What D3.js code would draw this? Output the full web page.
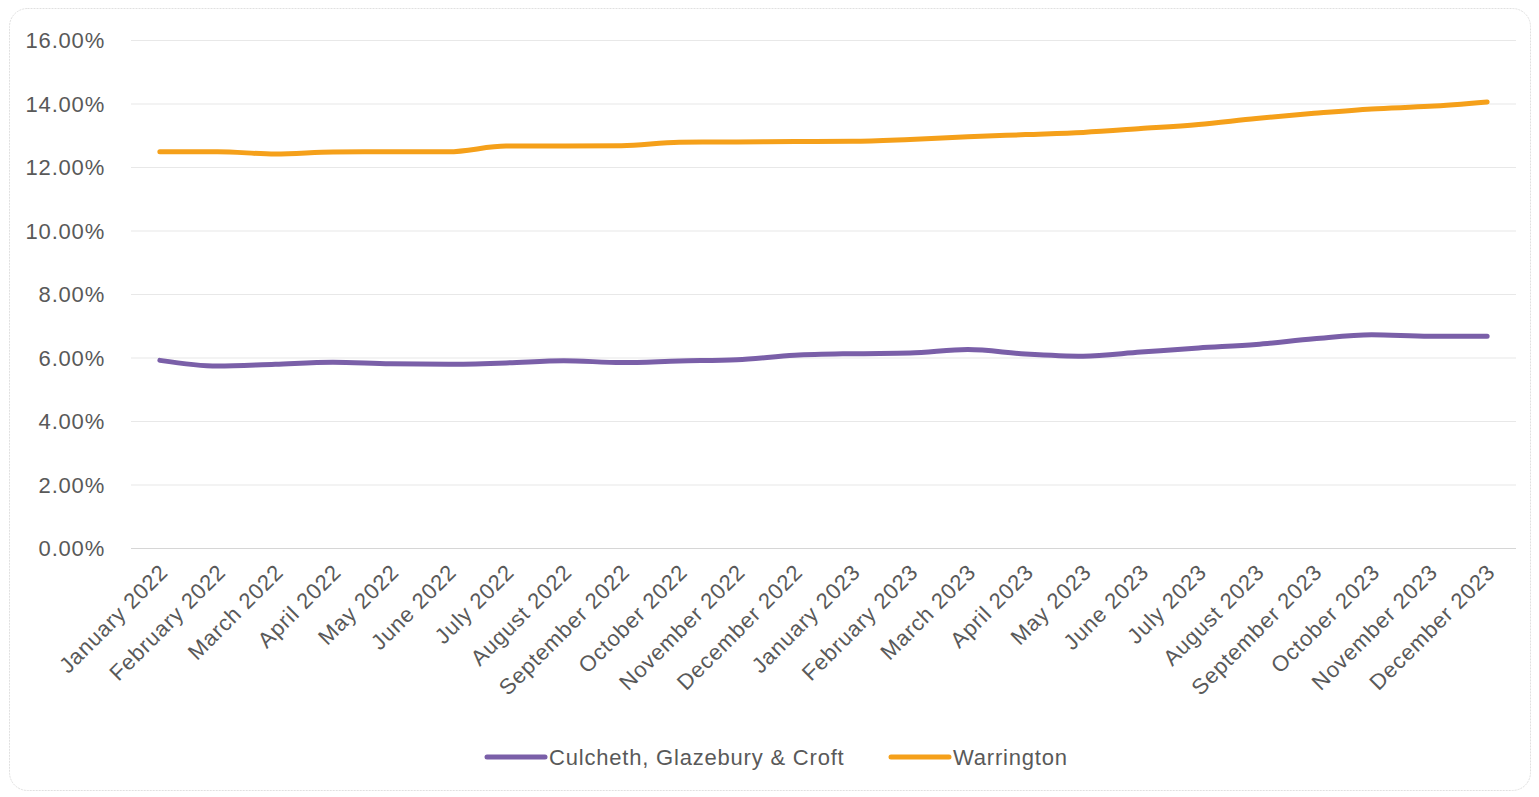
<!DOCTYPE html>
<html>
<head>
<meta charset="utf-8">
<script src="https://cdn.jsdelivr.net/npm/d3@7"></script>
<style>
  body { margin: 0; background: #fff; }
  svg text { font-family: "Liberation Sans", Arial, sans-serif; fill: #595959; letter-spacing: 0.8px; }
</style>
</head>
<body>
<div id="chart"></div>
<script>
// categories (months) and series values, in percent
var months = ["January 2022", "February 2022", "March 2022", "April 2022", "May 2022", "June 2022",
    "July 2022", "August 2022", "September 2022", "October 2022", "November 2022", "December 2022",
    "January 2023", "February 2023", "March 2023", "April 2023", "May 2023", "June 2023",
    "July 2023", "August 2023", "September 2023", "October 2023", "November 2023", "December 2023"];

var culcheth = [5.91, 5.73, 5.79, 5.85, 5.80, 5.79, 5.83, 5.90, 5.84, 5.89, 5.93, 6.07,
    6.12, 6.14, 6.25, 6.11, 6.04, 6.17, 6.30, 6.41, 6.59, 6.72, 6.67, 6.67];

var warrington = [12.48, 12.48, 12.41, 12.47, 12.48, 12.48, 12.66, 12.66, 12.67, 12.78, 12.79, 12.80,
    12.81, 12.87, 12.95, 13.02, 13.09, 13.21, 13.34, 13.53, 13.69, 13.83, 13.91, 14.05];

var yTicks = [0, 2, 4, 6, 8, 10, 12, 14, 16];

var seriesNames = ["Culcheth, Glazebury & Croft", "Warrington"];
var seriesColors = ["#7a5fa8", "#f5a01a"];

var W = 1539, H = 797;
var margin = { top: 40, right: 23, bottom: 249, left: 131 },
    width = W - margin.left - margin.right,
    height = H - margin.top - margin.bottom;

var svg = d3.select("#chart").append("svg")
    .attr("width", W)
    .attr("height", H);

// outer frame
svg.append("rect")
    .attr("x", 9.5).attr("y", 8.5)
    .attr("width", 1521).attr("height", 782)
    .attr("rx", 18)
    .attr("fill", "#fff")
    .attr("stroke", "#e0e0e0")
    .attr("stroke-dasharray", "2,1");

var g = svg.append("g")
    .attr("transform", "translate(" + margin.left + "," + margin.top + ")");

var x = d3.scaleBand().domain(months).range([0, width]).padding(0);
var y = d3.scaleLinear().domain([0, 16]).range([height, 0]);

function cx(d) { return x(d) + x.bandwidth() / 2; }

// gridlines + y labels
var yAxis = d3.axisLeft(y)
    .tickValues(yTicks)
    .tickSize(-width)
    .tickPadding(26)
    .tickFormat(function(d) { return d3.format(".2f")(d) + "%"; });

var ya = g.append("g").call(yAxis);
ya.select(".domain").remove();
ya.selectAll(".tick line")
    .attr("stroke", function(d) { return d === 0 ? "#d6d6d6" : "#e8e8e8"; })
    .attr("stroke-width", 1.2);
ya.selectAll(".tick text")
    .style("font-size", "22px")
    .attr("dy", "0.35em");

// x labels, rotated
var xa = g.append("g")
    .attr("transform", "translate(0," + height + ")")
    .call(d3.axisBottom(x).tickSize(0).tickPadding(0));
xa.select(".domain").remove();
xa.selectAll(".tick text")
    .style("font-size", "22px")
    .attr("text-anchor", "end")
    .attr("transform", "translate(4,20) rotate(-45)")
    .attr("y", 0)
    .attr("dy", "0.35em");

// lines
var line = d3.line()
    .x(function(d, i) { return cx(months[i]); })
    .y(function(d) { return y(d); })
    .curve(d3.curveMonotoneX);

[culcheth, warrington].forEach(function(vals, k) {
    g.append("path")
        .datum(vals)
        .attr("fill", "none")
        .attr("stroke", seriesColors[k])
        .attr("stroke-width", 5)
        .attr("stroke-linecap", "round")
        .attr("stroke-linejoin", "round")
        .attr("d", line);
});

// legend
var legendX = [487, 891];
var legend = svg.append("g").attr("transform", "translate(0,757)");
seriesNames.forEach(function(name, k) {
    legend.append("line")
        .attr("x1", legendX[k]).attr("x2", legendX[k] + 58)
        .attr("y1", 0).attr("y2", 0)
        .attr("stroke", seriesColors[k])
        .attr("stroke-width", 5)
        .attr("stroke-linecap", "round");
    legend.append("text")
        .attr("x", legendX[k] + 62)
        .attr("y", 0)
        .attr("dy", "0.35em")
        .style("font-size", "22px")
        .text(name);
});
</script>
</body>
</html>
